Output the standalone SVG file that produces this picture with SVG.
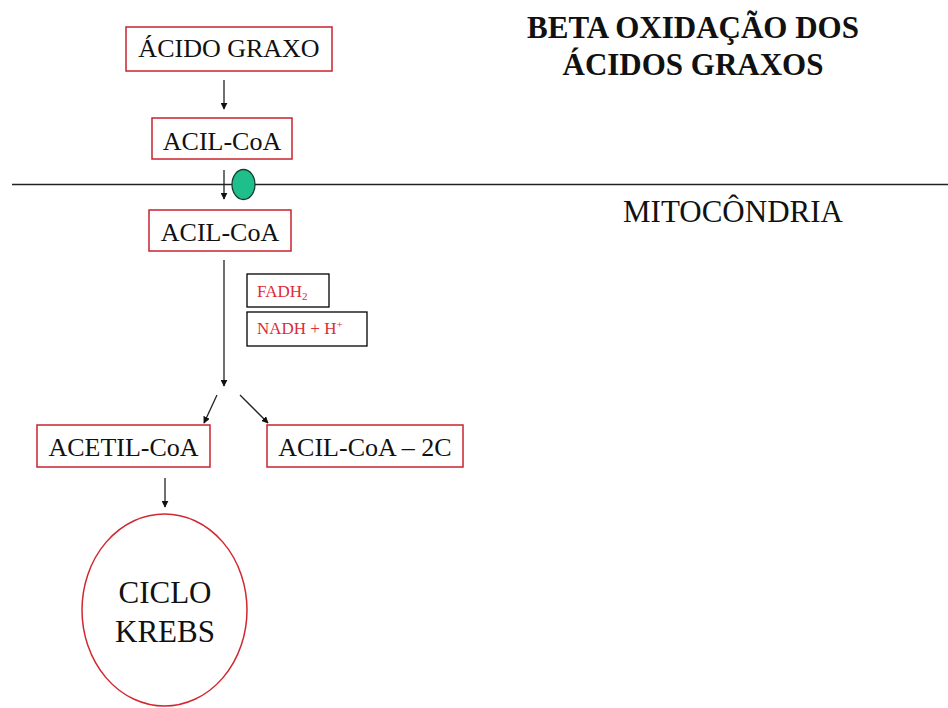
<svg xmlns="http://www.w3.org/2000/svg" width="948" height="708" viewBox="0 0 948 708">
<style>
  .box{fill:#fff;stroke:#c8232c;stroke-width:1.5}
  .bbox{fill:#fff;stroke:#000;stroke-width:1.3}
  .lbl{font-family:"Liberation Serif",serif;font-size:26px;fill:#111;text-anchor:middle}
  .red{font-family:"Liberation Serif",serif;font-size:17px;fill:#e02a35}
  .title{font-family:"Liberation Serif",serif;font-size:31px;font-weight:bold;fill:#111;text-anchor:middle}
  .conn line{stroke:#222;stroke-width:1.3;marker-end:url(#ah)}
</style>
<defs>
  <marker id="ah" viewBox="0 0 10 10" refX="9" refY="5" markerWidth="7" markerHeight="7" markerUnits="userSpaceOnUse" orient="auto">
    <path d="M0,0 L10,5 L0,10 z" fill="#111"/>
  </marker>
</defs>
<rect width="948" height="708" fill="#fff"/>

<g id="title">
  <text class="title" x="693" y="38">BETA OXIDAÇÃO DOS</text>
  <text class="title" x="693" y="75">ÁCIDOS GRAXOS</text>
</g>

<g id="membrane">
  <line x1="12" y1="184.5" x2="948" y2="184.5" stroke="#222" stroke-width="1.3"/>
</g>

<g id="mitocondria">
  <text x="733" y="222" font-family="Liberation Serif, serif" font-size="31" fill="#111" text-anchor="middle">MITOCÔNDRIA</text>
</g>

<g class="conn" id="connectors">
  <line x1="224" y1="80" x2="224" y2="109"/>
  <line x1="224" y1="170" x2="224" y2="199"/>
  <line x1="224" y1="260" x2="224" y2="386"/>
  <line x1="217" y1="395" x2="204" y2="423"/>
  <line x1="240" y1="395" x2="268" y2="423"/>
  <line x1="165" y1="478" x2="165" y2="507"/>
</g>

<g id="transporter">
  <ellipse cx="243.5" cy="184.5" rx="11.5" ry="15" fill="#1fbf8c" stroke="#1a3a30" stroke-width="1.3"/>
</g>

<g id="acido-graxo">
  <rect class="box" x="126" y="27" width="206" height="44"/>
  <text class="lbl" x="229" y="57">ÁCIDO GRAXO</text>
</g>

<g id="acil-coa-1">
  <rect class="box" x="152" y="118" width="140" height="41"/>
  <text class="lbl" x="222" y="150">ACIL-CoA</text>
</g>

<g id="acil-coa-2">
  <rect class="box" x="149" y="210" width="142" height="41"/>
  <text class="lbl" x="220" y="241">ACIL-CoA</text>
</g>

<g id="fadh2">
  <rect class="bbox" x="247" y="274" width="82" height="33"/>
  <text class="red" x="257" y="297">FADH<tspan font-size="11" dy="3">2</tspan></text>
</g>

<g id="nadh">
  <rect class="bbox" x="247" y="312" width="120" height="34"/>
  <text class="red" x="257" y="334">NADH + H<tspan font-size="11" dy="-6">+</tspan></text>
</g>

<g id="acetil-coa">
  <rect class="box" x="37" y="425" width="173" height="42"/>
  <text class="lbl" x="123.5" y="456">ACETIL-CoA</text>
</g>

<g id="acil-coa-2c">
  <rect class="box" x="267" y="425" width="196" height="42"/>
  <text class="lbl" x="365" y="456">ACIL-CoA – 2C</text>
</g>

<g id="ciclo-krebs">
  <ellipse cx="164.5" cy="610" rx="82.5" ry="96" fill="#fff" stroke="#d0282f" stroke-width="1.5"/>
  <text class="lbl" x="165" y="603" style="font-size:31px">CICLO</text>
  <text class="lbl" x="165" y="642" style="font-size:31px">KREBS</text>
</g>
</svg>
